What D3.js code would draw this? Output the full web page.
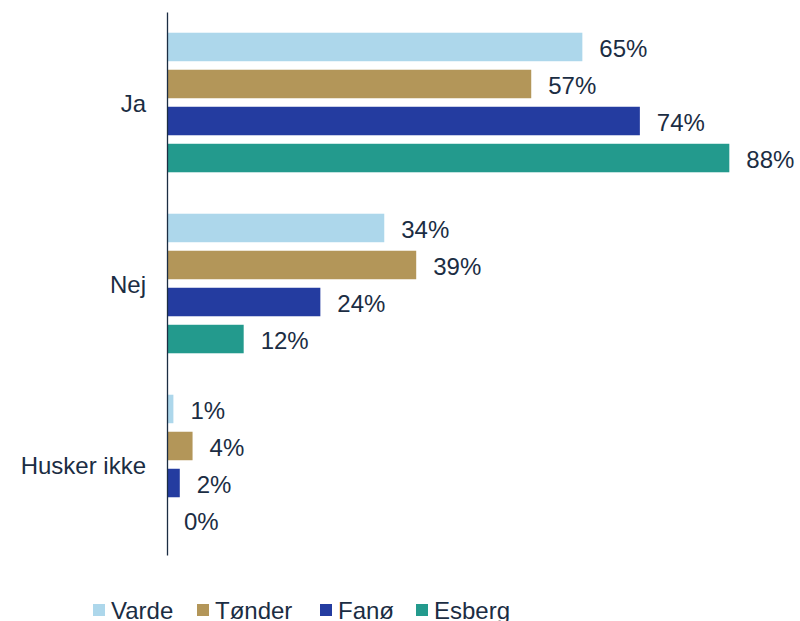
<!DOCTYPE html>
<html>
<head>
<meta charset="utf-8">
<script src="https://cdn.jsdelivr.net/npm/d3@7"></script>
<style>
  body { margin: 0; background: #fff; }
  text { font-family: "Liberation Sans", Arial, sans-serif; fill: #1b2d43; }
</style>
</head>
<body>
<div id="chart"></div>
<script>
// data
var categories = ["Ja", "Nej", "Husker ikke"];
var series = ["Varde", "Tønder", "Fanø", "Esberg"];
var varde = [65, 34, 1];
var tonder = [57, 39, 4];
var fano = [74, 24, 2];
var esberg = [88, 12, 0];
var colors = ["#add7eb", "#b39659", "#243ca0", "#239a8d"];

var values = [varde, tonder, fano, esberg];

var svgWidth = 800, svgHeight = 621;
var margin = { top: 12, left: 167, bottom: 66 };
var height = svgHeight - margin.top - margin.bottom;

var svg = d3.select("#chart")
  .append("svg")
  .attr("width", svgWidth)
  .attr("height", svgHeight);

var chartGroup = svg.append("g")
  .attr("transform", `translate(${margin.left}, ${margin.top})`);

// scales
var xScale = d3.scaleLinear().domain([0, 100]).range([0, 639]);

var yGroup = d3.scaleBand()
  .domain(categories)
  .range([0, height])
  .padding(0);

var ySub = d3.scaleBand()
  .domain(series)
  .range([0, yGroup.bandwidth()])
  .paddingInner(0.23)
  .paddingOuter(0.56);

// flatten for drawing
var rows = [];
categories.forEach(function(c, ci) {
  series.forEach(function(s, si) {
    rows.push({ cat: c, series: s, value: values[si][ci], color: colors[si] });
  });
});

// bars
chartGroup.append("g")
  .selectAll("rect")
  .data(rows)
  .enter()
  .append("rect")
  .attr("x", 0)
  .attr("y", d => yGroup(d.cat) + ySub(d.series))
  .attr("width", d => xScale(d.value))
  .attr("height", ySub.bandwidth())
  .attr("fill", d => d.color);

// value labels
chartGroup.append("g")
  .selectAll("text")
  .data(rows)
  .enter()
  .append("text")
  .attr("x", d => xScale(d.value) + 17)
  .attr("y", d => yGroup(d.cat) + ySub(d.series) + ySub.bandwidth() / 2)
  .attr("dy", "0.42em")
  .style("font-size", "24px")
  .text(d => d.value + "%");

// y axis
var yAxis = d3.axisLeft(yGroup).tickSize(0).tickPadding(21);
var yAxisG = chartGroup.append("g").call(yAxis);
yAxisG.select(".domain").attr("stroke", "#1b2d43").attr("stroke-width", 1.3);
yAxisG.selectAll("text")
  .attr("dy", "0.4em")
  .style("font-size", "24px")
  .style("font-family", "'Liberation Sans', Arial, sans-serif")
  .attr("fill", "#1b2d43");

// legend
var legendX = [93, 197, 320, 416];
var legend = svg.append("g")
  .selectAll("g")
  .data(series)
  .enter()
  .append("g")
  .attr("transform", (d, i) => `translate(${legendX[i]}, 604)`);

legend.append("rect")
  .attr("width", 12)
  .attr("height", 12)
  .attr("fill", (d, i) => colors[i]);

legend.append("text")
  .attr("x", 18)
  .attr("y", 6)
  .attr("dy", "0.36em")
  .style("font-size", "24px")
  .text(d => d);
</script>
</body>
</html>
